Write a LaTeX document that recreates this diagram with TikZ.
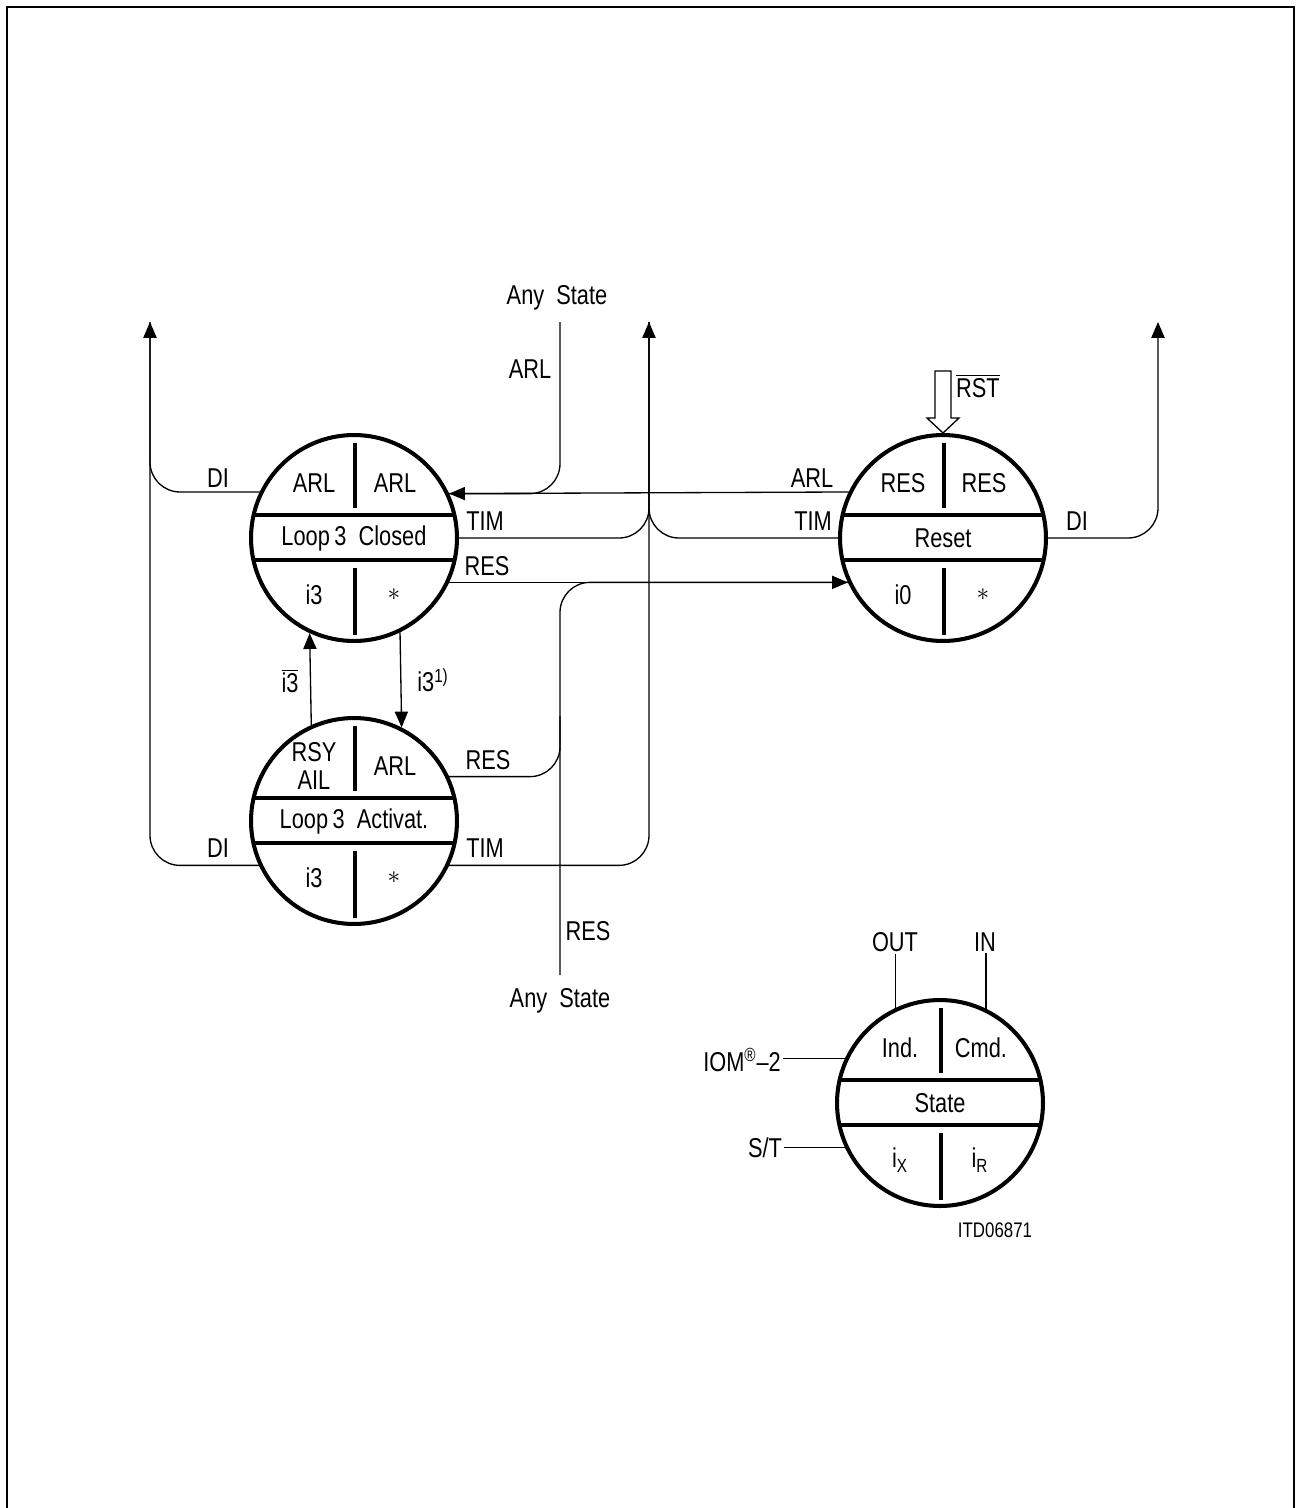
\documentclass[tikz,border=0pt]{standalone}
\usepackage{fontspec}
\setmainfont{Liberation Sans}[FakeStretch=0.8]
\usetikzlibrary{arrows.meta}
\tikzset{
    stato/.style={draw, circle, minimum size=4.12cm, inner sep=0pt, line width=2.3pt},
    trenn/.style={line width=2.3pt},
    linea/.style={line width=0.75pt, rounded corners=0.6cm},
    pfeil/.style={linea, -{Triangle[length=9pt, width=7.5pt]}},
    testo/.style={inner sep=1pt, font=\fontsize{15.5}{16}\selectfont, align=center},
    piccolo/.style={inner sep=1pt, font=\fontsize{12}{14}\selectfont}
}

% campi interni di uno stato
\newcommand{\campi}[6]{%
    \draw[trenn] ([shift={(-100.5,-23)}]#1.center) -- ++(201,0);
    \draw[trenn] ([shift={(-100.5,22)}]#1.center) -- ++(201,0);
    \draw[trenn] ([shift={(1,-95)}]#1.center) -- ++(0,65);
    \draw[trenn] ([shift={(1,30)}]#1.center) -- ++(0,67);
    \node[testo] (#1-so) at ([shift={(-40,-55)}]#1.center) {#2};
    \node[testo] (#1-do) at ([shift={(41,-55)}]#1.center) {#3};
    \node[testo] (#1-m) at (#1.center) {#4};
    \node[testo] (#1-su) at ([shift={(-40,57)}]#1.center) {#5};
    \node[testo] (#1-du) at ([shift={(40,57)}]#1.center) {#6};
}

\begin{document}
\begin{tikzpicture}[x=0.02cm, y=-0.02cm]
    \useasboundingbox (0,0) rectangle (1297,1508);
    \draw[line width=1.5pt] (7,1508) -- (7,7) -- (1294,7) -- (1294,1508);

    % Stati
    \node (closed) [stato] at (354,538) {};
    \node (activ) [stato] at (354,821) {};
    \node (reset) [stato] at (943,538) {};
    \node (legende) [stato] at (940,1103) {};

    \campi{closed}{ARL}{ARL}{Loop\,3\ \ Closed}{i3}{$\ast$}
    \campi{activ}{RSY\\AIL}{ARL}{Loop\,3\ \ Activat.}{i3}{$\ast$}
    \campi{reset}{RES}{RES}{Reset}{i0}{$\ast$}
    \campi{legende}{Ind.}{Cmd.}{State}{i\textsubscript{X}}{i\textsubscript{R}}

    % Punti liberi
    \coordinate (diTop) at (150,322);
    \coordinate (timTop) at (649,322);
    \coordinate (diRTop) at (1158,322);
    \coordinate (arlTop) at (560,322);
    \coordinate (resBot) at (560,975);

    % Uscite DI
    \draw [linea] (closed.154.4) -| (diTop);
    \draw [pfeil] (activ.205) -| (diTop);
    \draw [pfeil] (reset.east) -| (diRTop);

    % Uscite TIM
    \draw [pfeil] (activ.-25) -| (timTop);
    \draw [linea] (closed.east) -| (timTop);
    \draw [linea] (reset.west) -| (timTop);

    % ARL e RES
    \draw [pfeil] (reset.154.4) -- (closed.25.6);
    \draw [linea] (arlTop) |- (closed.25.6);
    \draw [pfeil] (closed.-25.6) -- (reset.205.6);
    \draw [linea] (resBot) |- (reset.205.6);
    \draw [linea] (activ.25.6) -| (resBot |- activ.north);

    % i3 tra i due stati Loop 3
    \draw [pfeil] (activ.114.4) -- (closed.245.6);
    \draw [pfeil] (closed.296.3) -- (activ.63.7);

    % Reset esterno
    \draw [linea, sharp corners] (reset.north) -- ++(-16,-15) -- ++(8,0) -- ++(0,-47)
        -- ++(16,0) -- ++(0,47) -- ++(8,0) -- cycle;

    % Etichette
    \node (anyTop) [testo] at (557,298) {Any\ \ State};
    \node (lblARLa) [testo] at (530,369) {ARL};
    \node (lblDIa) [testo] at (218,478) {DI};
    \node (lblTIMa) [testo] at (485,521) {TIM};
    \node (lblRESa) [testo] at (487,566) {RES};
    \node (lblARLr) [testo] at (812,478) {ARL};
    \node (lblTIMr) [testo] at (813,521) {TIM};
    \node (lblDIr) [testo] at (1077,521) {DI};
    \node (lblRST) [testo] at (978,386) {$\overline{\mbox{RST}}$};
    \node (lblI3n) [testo] at (290,681) {$\overline{\mbox{i3}}$};
    \node (lblI3) [testo] at (433,680) {i3\textsuperscript{1)}};
    \node (lblRESb) [testo] at (488,760) {RES};
    \node (lblDIb) [testo] at (218,848) {DI};
    \node (lblTIMb) [testo] at (485,848) {TIM};
    \node (lblRESc) [testo] at (588,931) {RES};
    \node (anyBot) [testo] at (560,1001) {Any\ \ State};

    % Legenda
    \node (lblOUT) [testo] at (895,942) {OUT};
    \node (lblIN) [testo] at (985,942) {IN};
    \node (lblIOM) [testo] at (742,1060) {IOM\textsuperscript{\textregistered}--2};
    \node (lblST) [testo] at (765,1148) {S/T};
    \node (lblITD) [piccolo] at (995,1230) {ITD06871};
    \draw [linea] (legende.115.6 |- lblOUT.south) -- (legende.115.6);
    \draw [linea] (legende.64.4 |- lblIN.south) -- (legende.64.4);
    \draw [linea] (legende.155 -| lblIOM.east) -- (legende.155);
    \draw [linea] (legende.205.6 -| lblST.east) -- (legende.205.6);
\end{tikzpicture}
\end{document}
